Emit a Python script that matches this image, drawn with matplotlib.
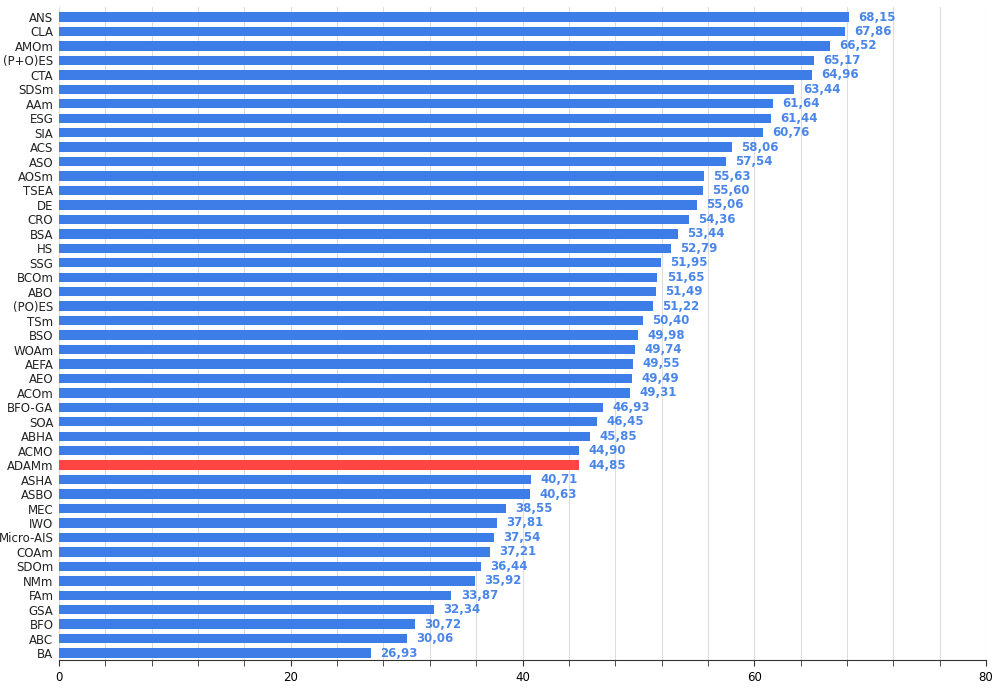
import matplotlib.pyplot as plt
from matplotlib.ticker import MultipleLocator

names = ["ANS", "CLA", "AMOm", "(P+O)ES", "CTA", "SDSm", "AAm", "ESG", "SIA", "ACS",
         "ASO", "AOSm", "TSEA", "DE", "CRO", "BSA", "HS", "SSG", "BCOm", "ABO",
         "(PO)ES", "TSm", "BSO", "WOAm", "AEFA", "AEO", "ACOm", "BFO-GA", "SOA", "ABHA",
         "ACMO", "ADAMm", "ASHA", "ASBO", "MEC", "IWO", "Micro-AIS", "COAm", "SDOm", "NMm",
         "FAm", "GSA", "BFO", "ABC", "BA"]
scores = [68.15, 67.86, 66.52, 65.17, 64.96, 63.44, 61.64, 61.44, 60.76, 58.06,
          57.54, 55.63, 55.60, 55.06, 54.36, 53.44, 52.79, 51.95, 51.65, 51.49,
          51.22, 50.40, 49.98, 49.74, 49.55, 49.49, 49.31, 46.93, 46.45, 45.85,
          44.90, 44.85, 40.71, 40.63, 38.55, 37.81, 37.54, 37.21, 36.44, 35.92,
          33.87, 32.34, 30.72, 30.06, 26.93]
highlight = "ADAMm"

blue = "#3d7de8"
red = "#ff4444"
colors = [red if n == highlight else blue for n in names]

fig = plt.figure(figsize=(10, 6.9), dpi=100)
ax = fig.add_axes([0.059, 0.043, 0.927, 0.947])
y = list(range(len(names)))
ax.barh(y, scores, height=0.65, color=colors, zorder=3)
for yi, v in zip(y, scores):
    ax.text(v + 0.8, yi, f"{v:.2f}".replace(".", ","), va="center", ha="left",
            fontsize=8.5, fontweight="bold", color="#4a86e8", zorder=4)

ax.set_ylim(len(names) - 0.5, -0.7)
ax.set_xlim(0, 80)
ax.set_yticks(y)
ax.set_yticklabels(names, fontsize=8.5, color="#222222")
ax.xaxis.set_major_locator(MultipleLocator(20))
ax.xaxis.set_minor_locator(MultipleLocator(4))
ax.tick_params(axis="x", which="major", labelsize=8.5, length=4, color="#333333")
ax.tick_params(axis="x", which="minor", length=4, color="#333333")
ax.tick_params(axis="y", length=0, pad=4)
ax.grid(axis="x", which="both", color="#dddddd", linewidth=0.8, zorder=0)
for s in ["top", "right", "left"]:
    ax.spines[s].set_visible(False)
ax.spines["bottom"].set_color("#333333")

fig.savefig("out.png", dpi=100)
